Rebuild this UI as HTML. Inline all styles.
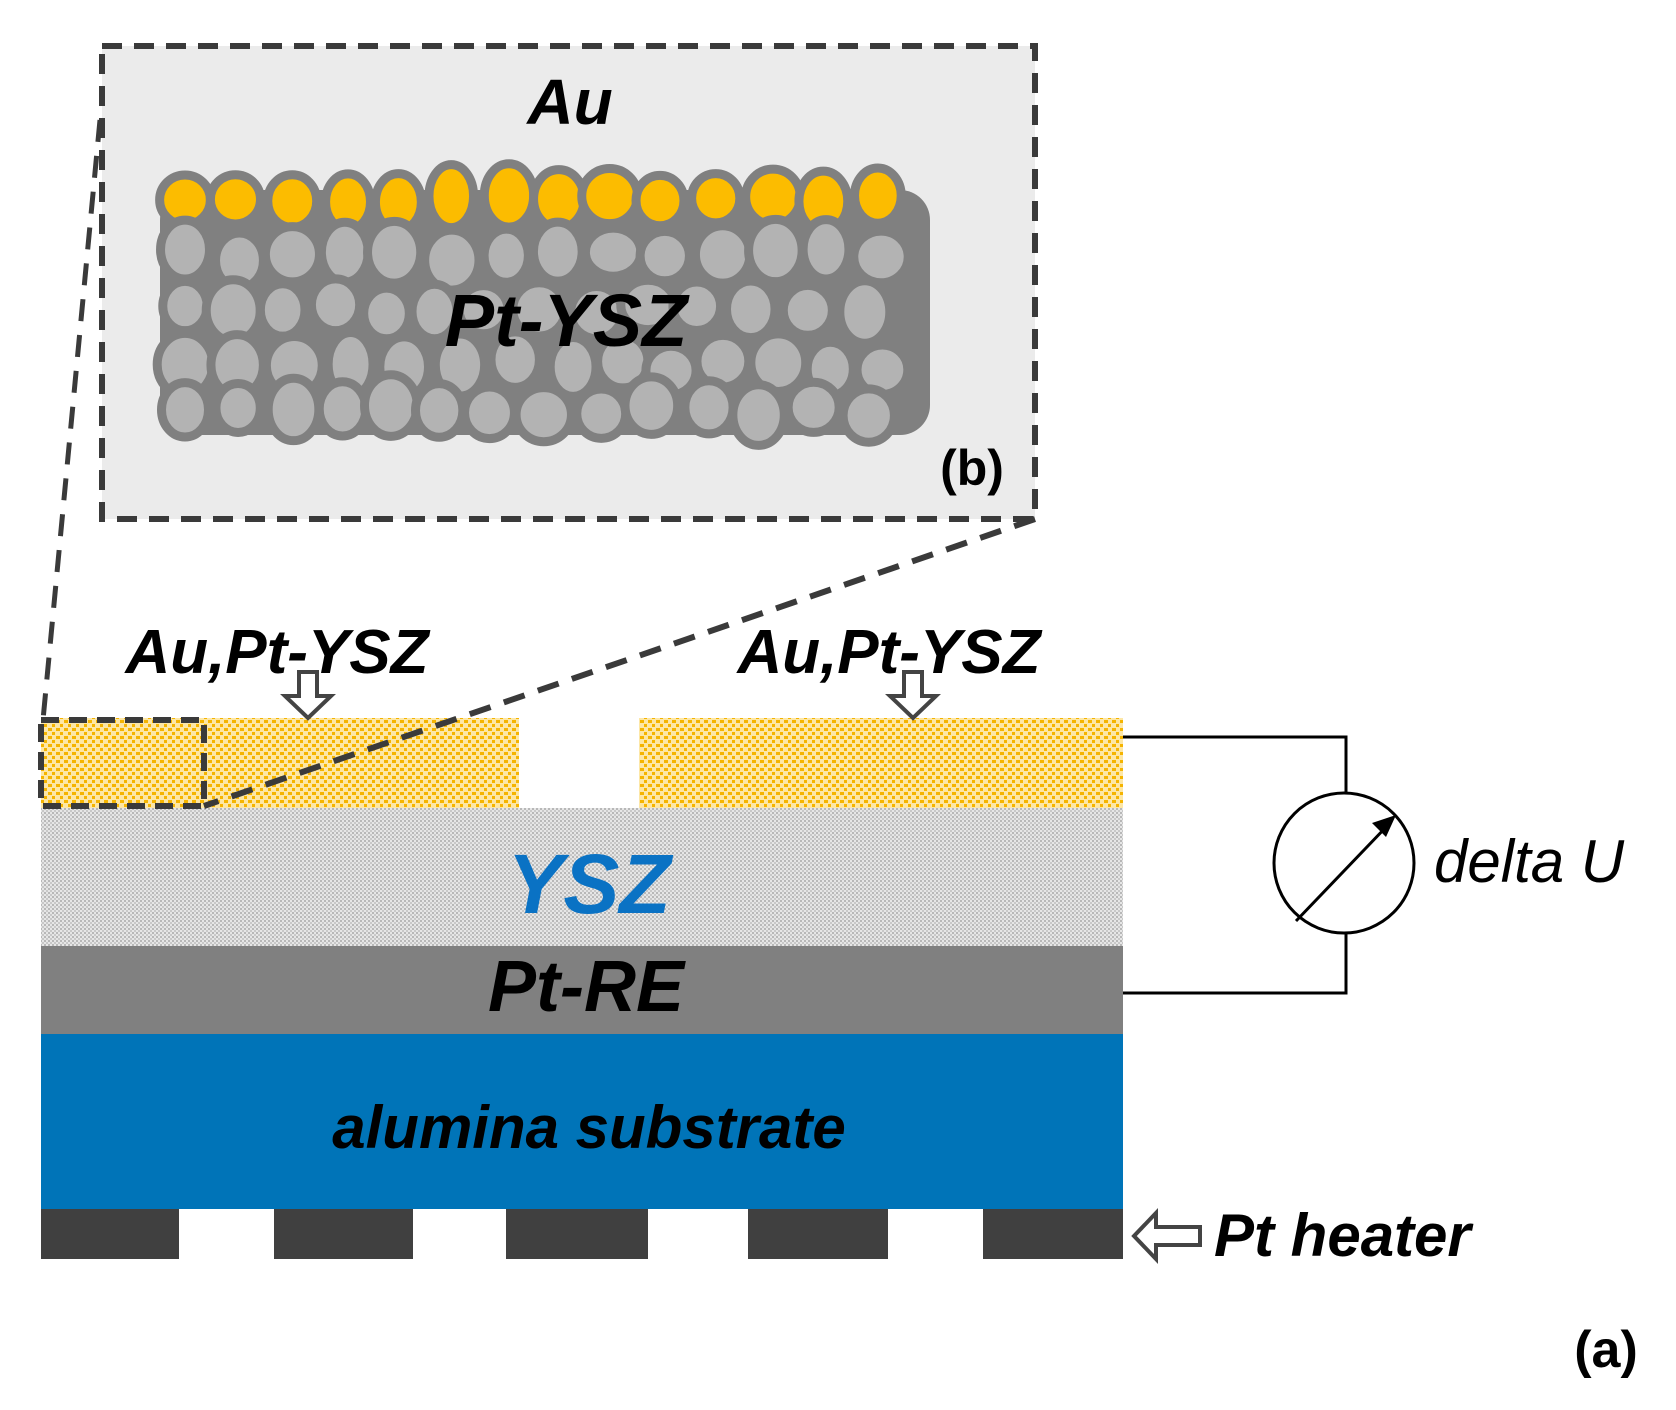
<!DOCTYPE html>
<html><head><meta charset="utf-8"><style>
html,body{margin:0;padding:0;background:#fff;}
svg{display:block;}
text{font-family:"Liberation Sans",sans-serif;}
.bi{font-weight:bold;font-style:italic;}
</style></head><body>
<svg id="s" width="1676" height="1410" viewBox="0 0 1676 1410" xmlns="http://www.w3.org/2000/svg">
<defs>
<pattern id="gold" width="8" height="8" patternUnits="userSpaceOnUse">
<rect width="8" height="8" fill="#fde7a6"/>
<rect x="0" y="0" width="4" height="3" fill="#f5b400"/>
<rect x="4" y="4" width="3" height="3" fill="#f5b400"/>
</pattern>
<pattern id="ysz" width="4" height="4" patternUnits="userSpaceOnUse">
<rect width="4" height="4" fill="#e6e6e6"/>
<rect x="0" y="0" width="2" height="2" fill="#b8b8b8"/>
<rect x="2" y="2" width="2" height="2" fill="#c8c8c8"/>
</pattern>
</defs>
<rect x="102" y="46" width="933" height="473" fill="#ebebeb"/>
<g id="grains"></g>
<rect x="102" y="46" width="933" height="473" fill="none" stroke="#3a3a3a" stroke-width="6" stroke-dasharray="20,12"/>
<text class="bi" x="570" y="124" font-size="64" text-anchor="middle">Au</text>
<text class="bi" x="566" y="346" font-size="74" text-anchor="middle">Pt-YSZ</text>
<text x="972" y="485" font-size="50" text-anchor="middle" style="font-weight:bold">(b)</text>
<line x1="100" y1="120" x2="43" y2="720" stroke="#3a3a3a" stroke-width="5" stroke-dasharray="22,14"/>
<rect x="41" y="718" width="478" height="90" fill="url(#gold)"/>
<rect x="639" y="718" width="484" height="90" fill="url(#gold)"/>
<rect x="41" y="808" width="1082" height="138" fill="url(#ysz)"/>
<rect x="41" y="946" width="1082" height="88" fill="#808080"/>
<rect x="41" y="1034" width="1082" height="175" fill="#0074b8"/>
<g fill="#404040">
<rect x="41" y="1209" width="138" height="50"/>
<rect x="274" y="1209" width="139" height="50"/>
<rect x="506" y="1209" width="142" height="50"/>
<rect x="748" y="1209" width="140" height="50"/>
<rect x="983" y="1209" width="140" height="50"/>
</g>
<rect x="41" y="720" width="163" height="86" fill="none" stroke="#3a3a3a" stroke-width="6" stroke-dasharray="18,10"/>
<line x1="1035" y1="519" x2="204" y2="806" stroke="#3a3a3a" stroke-width="6" stroke-dasharray="22,14"/>
<text class="bi" x="277" y="673" font-size="62" text-anchor="middle">Au,Pt-YSZ</text>
<text class="bi" x="889" y="673" font-size="62" text-anchor="middle">Au,Pt-YSZ</text>
<g fill="#fff" stroke="#444" stroke-width="4" stroke-linejoin="miter">
<path d="M299 672 h18 v24 h14 l-23 22 l-23 -22 h14 z"/>
<path d="M904 672 h18 v24 h14 l-23 22 l-23 -22 h14 z"/>
<path d="M1200 1227 v18 h-44 v14 l-22 -23 l22 -23 v14 z"/>
</g>
<text class="bi" x="589" y="913" font-size="84" text-anchor="middle" fill="#0a72c4">YSZ</text>
<text class="bi" x="586" y="1011" font-size="72" text-anchor="middle">Pt-RE</text>
<text class="bi" x="589" y="1148" font-size="60" text-anchor="middle">alumina substrate</text>
<text class="bi" x="1214" y="1256" font-size="60">Pt heater</text>
<polyline points="1123,737 1346,737 1346,793" fill="none" stroke="#000" stroke-width="3"/>
<polyline points="1123,993 1346,993 1346,933" fill="none" stroke="#000" stroke-width="3"/>
<circle cx="1344" cy="863" r="70" fill="none" stroke="#000" stroke-width="3"/>
<line x1="1296" y1="921" x2="1388" y2="825" stroke="#000" stroke-width="3"/>
<path d="M1396 815 l-24 8 l14 14 z" fill="#000"/>
<text x="1434" y="882" font-size="60" style="font-style:italic">delta U</text>
<text x="1606" y="1367" font-size="52" text-anchor="middle" style="font-weight:bold">(a)</text>
</svg>
<script>
(function(){
var g=document.getElementById('grains');var ns='http://www.w3.org/2000/svg';
var seed=7;function r(){seed=(seed*9301+49297)%233280;return seed/233280;}
var b=document.createElementNS(ns,'rect');b.setAttribute('x',160);b.setAttribute('y',190);b.setAttribute('width',770);b.setAttribute('height',245);b.setAttribute('rx',30);b.setAttribute('fill','#808080');g.appendChild(b);
var rows=[200,255,310,365,410];
for(var i=0;i<rows.length;i++){
 for(var x=185;x<=915;x+=48+r()*10){
  var e=document.createElementNS(ns,'ellipse');
  var y=rows[i]+(r()-0.5)*12;
  e.setAttribute('cx',x);e.setAttribute('cy',y);
  e.setAttribute('rx',22+r()*6);e.setAttribute('ry',24+r()*8);
  e.setAttribute('fill',i==0?'#fcbc00':'#b3b3b3');
  e.setAttribute('stroke','#808080');e.setAttribute('stroke-width',9);
  g.appendChild(e);
 }
}
})();
</script>
</body></html>
